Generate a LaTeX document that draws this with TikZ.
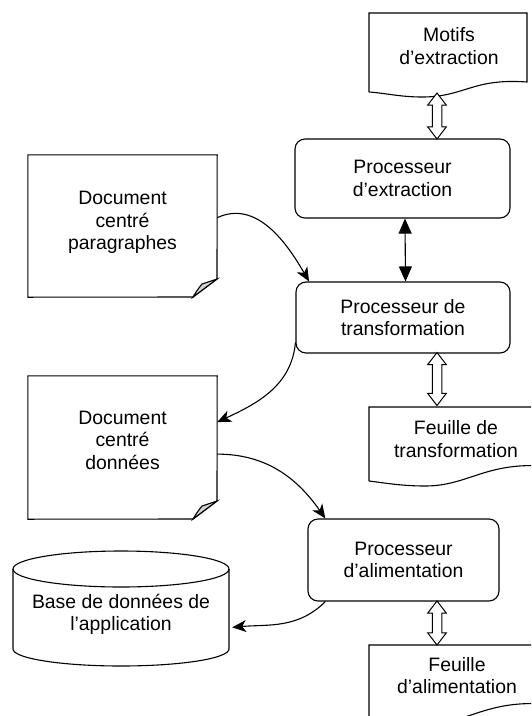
\documentclass[tikz,border=0pt]{standalone}
\usepackage{fontspec}
\setmainfont{Liberation Sans}
\usetikzlibrary{arrows.meta,shapes.arrows}

\begin{document}
\begin{tikzpicture}[x=1pt,y=1pt,
  txt/.style={align=center,inner sep=0pt,font=\fontsize{19.4}{22.5}\selectfont},
  proc/.style={txt,draw,line width=1.1pt,rounded corners=10pt},
  bord/.style={line width=1.1pt},
  boite/.style={inner sep=0pt},
  fleche/.style={line width=1.1pt,-{Stealth[length=14pt,width=12pt,inset=4pt]}},
  noir/.style={line width=1.1pt,{Triangle[length=15pt,width=13pt]}-{Triangle[length=15pt,width=13pt]}},
  dblarrow/.style={double arrow,draw,fill=white,line width=1pt,inner xsep=0pt,inner ysep=4.25pt,rotate=90,
    double arrow head extend=4.5pt,double arrow tip angle=75}]
  \useasboundingbox (0,0) rectangle (531,-716);
  \clip (0,0) rectangle (531,-716);

  \node[proc,minimum width=215,minimum height=79] (pe) at (402.5,-178.5) {Processeur\\d’extraction};
  \node[proc,minimum width=214,minimum height=71] (pt) at (403,-317.5) {Processeur de\\transformation};
  \node[proc,minimum width=191,minimum height=82] (pa) at (403.5,-560) {Processeur\\d’alimentation};

  \node[txt] (mot) at (449,-46) {Motifs\\d’extraction};
  \draw[bord] (369,-92) -- (369,-13) -- (527,-13) -- (527,-82)
    .. controls (472,-78) and (465,-97) .. (422,-97) .. controls (400,-97) and (385,-93) .. (369,-92);
  \node[txt] (ft) at (456,-439) {Feuille de\\transformation};
  \draw[bord] (369,-481) -- (369,-407) -- (545,-407) -- (545,-466)
    .. controls (485,-462) and (468,-486) .. (425,-486) .. controls (402,-486) and (385,-483) .. (369,-481);
  \node[txt] (fa) at (457,-675.5) {Feuille\\d’alimentation};
  \draw[bord] (369,-719) -- (369,-645) -- (545,-645) -- (545,-704)
    .. controls (485,-700) and (468,-724) .. (425,-724) .. controls (402,-724) and (385,-721) .. (369,-719);

  \node[boite,minimum width=189,minimum height=142] (dp) at (122.5,-226) {};
  \draw[bord] (dp.north west) -- (dp.north east) -- (217,-279) -- (193,-297) -- (dp.south west) -- cycle;
  \draw[bord,fill=gray!35] (217,-279) -- (202,-284) .. controls (198,-289) .. (193,-297) -- cycle;
  \node[txt] (dptxt) at (122.5,-222.5) {Document\\centré\\paragraphes};

  \node[boite,minimum width=189,minimum height=143] (dd) at (122.5,-447.5) {};
  \draw[bord] (dd.north west) -- (dd.north east) -- (217,-501) -- (193,-519) -- (dd.south west) -- cycle;
  \draw[bord,fill=gray!35] (217,-501) -- (202,-506) .. controls (198,-511) .. (193,-519) -- cycle;
  \node[txt] (ddtxt) at (122.5,-440) {Document\\centré\\données};

  \node[boite,minimum width=216,minimum height=115] (bdd) at (121,-608.5) {};
  \draw[bord] (13,-569) -- (13,-649) arc[start angle=180,end angle=360,x radius=108,y radius=17] -- (229,-569);
  \draw[bord] (121,-569) ellipse[x radius=108,y radius=18];
  \node[txt] (bddtxt) at (121,-614.5) {Base de données de\\l’application};

  \node[dblarrow,minimum height=46] (ae) at (437,-116) {};
  \node[dblarrow,minimum height=53] (at) at (437,-379) {};
  \node[dblarrow,minimum height=44] (aa) at (437,-623) {};
  \draw[noir] ([xshift=2.5pt]pe.south) -- ([xshift=2.5pt]pt.north);

  \draw[fleche] (dp.5) to[out=25,in=120] (pt.159);
  \draw[fleche] (pt.193) to[out=265,in=25] (dd.15);
  \draw[fleche] (dd.-4) to[out=0,in=125] (pa.152);
  \draw[fleche,shorten >=3pt] (pa.208) to[out=225,in=5] (bdd.-10);
\end{tikzpicture}
\end{document}
